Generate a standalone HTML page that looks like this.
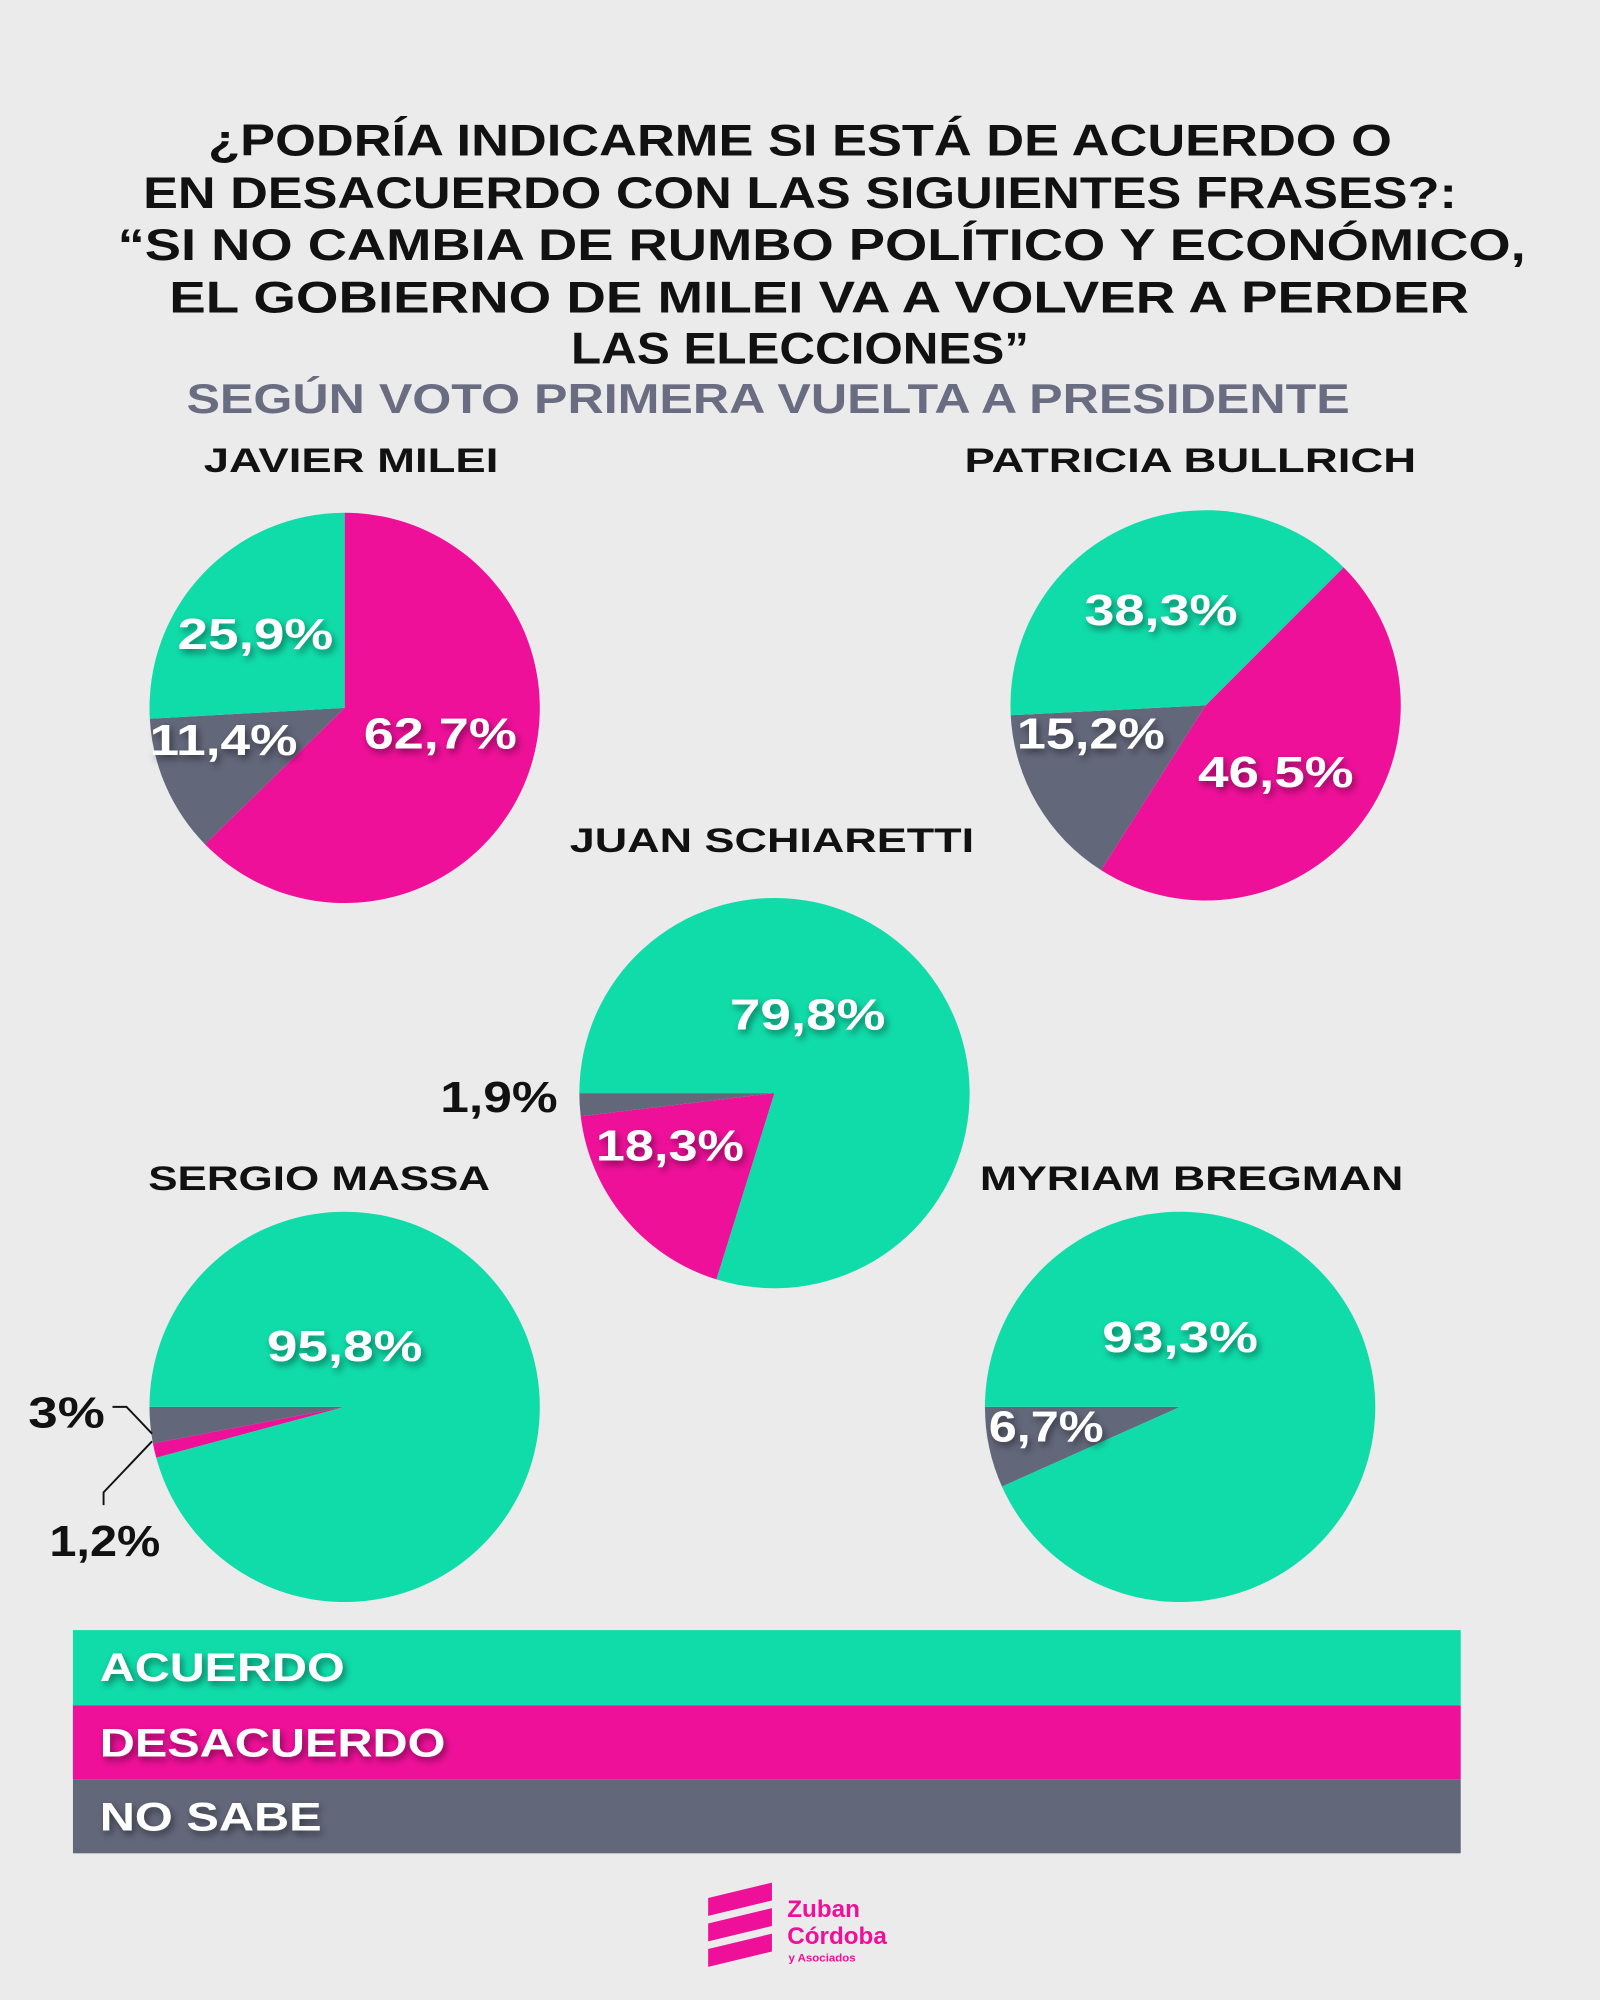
<!DOCTYPE html>
<html><head><meta charset="utf-8"><style>
html,body{margin:0;padding:0;background:#ececec;}
svg{display:block}
text{font-family:"Liberation Sans","DejaVu Sans",sans-serif;font-weight:bold;}
</style></head><body>
<svg id="s" width="1600" height="2000" viewBox="0 0 1254 1568" xmlns="http://www.w3.org/2000/svg">
<defs>
<filter id="sh" x="-20%" y="-40%" width="140%" height="180%"><feDropShadow dx="2" dy="3" stdDeviation="3" flood-color="#000" flood-opacity="0.45"/></filter>
</defs>
<rect width="1254" height="1568" fill="#ebebeb"/>
<g id="pies"></g>
<g text-anchor="middle" fill="#111" font-size="35" lengthAdjust="spacingAndGlyphs">
<text x="627" y="122" textLength="928" lengthAdjust="spacingAndGlyphs">¿PODRÍA INDICARME SI ESTÁ DE ACUERDO O</text>
<text x="627" y="163" textLength="1030" lengthAdjust="spacingAndGlyphs">EN DESACUERDO CON LAS SIGUIENTES FRASES?:</text>
<text x="644" y="204" textLength="1104" lengthAdjust="spacingAndGlyphs">“SI NO CAMBIA DE RUMBO POLÍTICO Y ECONÓMICO,</text>
<text x="642" y="245" textLength="1019" lengthAdjust="spacingAndGlyphs">EL GOBIERNO DE MILEI VA A VOLVER A PERDER</text>
<text x="627" y="285" textLength="359" lengthAdjust="spacingAndGlyphs">LAS ELECCIONES”</text>
</g>
<text x="602" y="324" text-anchor="middle" fill="#6a6d82" font-size="33" textLength="912" lengthAdjust="spacingAndGlyphs">SEGÚN VOTO PRIMERA VUELTA A PRESIDENTE</text>
<g fill="#111" font-size="27" text-anchor="middle">
<text x="275" y="370" textLength="231" lengthAdjust="spacingAndGlyphs">JAVIER MILEI</text>
<text x="933" y="370" textLength="354" lengthAdjust="spacingAndGlyphs">PATRICIA BULLRICH</text>
<text x="605" y="668" textLength="317" lengthAdjust="spacingAndGlyphs">JUAN SCHIARETTI</text>
<text x="250" y="933" textLength="268" lengthAdjust="spacingAndGlyphs">SERGIO MASSA</text>
<text x="934" y="933" textLength="332" lengthAdjust="spacingAndGlyphs">MYRIAM BREGMAN</text>
</g>
<g fill="#fff" font-size="34" text-anchor="middle" filter="url(#sh)">
<text x="200" y="509" textLength="122" lengthAdjust="spacingAndGlyphs">25,9%</text>
<text x="175" y="592" textLength="116" lengthAdjust="spacingAndGlyphs">11,4%</text>
<text x="345" y="587" textLength="120" lengthAdjust="spacingAndGlyphs">62,7%</text>
<text x="910" y="490" textLength="120" lengthAdjust="spacingAndGlyphs">38,3%</text>
<text x="855" y="587" textLength="116" lengthAdjust="spacingAndGlyphs">15,2%</text>
<text x="1000" y="617" textLength="122" lengthAdjust="spacingAndGlyphs">46,5%</text>
<text x="633" y="807" textLength="122" lengthAdjust="spacingAndGlyphs">79,8%</text>
<text x="525" y="910" textLength="116" lengthAdjust="spacingAndGlyphs">18,3%</text>
<text x="270" y="1067" textLength="122" lengthAdjust="spacingAndGlyphs">95,8%</text>
<text x="925" y="1060" textLength="122" lengthAdjust="spacingAndGlyphs">93,3%</text>
<text x="820" y="1130" textLength="90" lengthAdjust="spacingAndGlyphs">6,7%</text>
</g>
<g fill="#111" font-size="34" text-anchor="middle">
<text x="391" y="872" textLength="92" lengthAdjust="spacingAndGlyphs">1,9%</text>
<text x="52" y="1119" textLength="60" lengthAdjust="spacingAndGlyphs">3%</text>
<text x="82" y="1220" textLength="87" lengthAdjust="spacingAndGlyphs">1,2%</text>
</g>
<polyline points="88,1103 99,1103 119,1124" fill="none" stroke="#111" stroke-width="1.5"/>
<polyline points="119,1130 81,1170 81,1180" fill="none" stroke="#111" stroke-width="1.5"/>
<rect x="57" y="1278" width="1088" height="59" fill="#10dcaa"/>
<rect x="57" y="1337" width="1088" height="58" fill="#ef1099"/>
<rect x="57" y="1395" width="1088" height="58" fill="#63677a"/>
<g fill="#fff" font-size="31" filter="url(#sh)">
<text x="78" y="1318" textLength="192" lengthAdjust="spacingAndGlyphs">ACUERDO</text>
<text x="78" y="1377" textLength="271" lengthAdjust="spacingAndGlyphs">DESACUERDO</text>
<text x="78" y="1435" textLength="174" lengthAdjust="spacingAndGlyphs">NO SABE</text>
</g>
<g fill="#ef1099">
<polygon points="555,1488 605,1476 605,1490 555,1502"/>
<polygon points="555,1508 605,1496 605,1510 555,1522"/>
<polygon points="555,1528 605,1516 605,1530 555,1542"/>
</g>
<g fill="#ef1099" font-size="19">
<text x="617" y="1503">Zuban</text>
<text x="617" y="1524">Córdoba</text>
<text x="618" y="1538" font-size="9" font-weight="normal">y Asociados</text>
</g>
</svg>
<script>
var G="#10dcaa",P="#ef1099",N="#63677a";
function pt(cx,cy,r,a){a=a*Math.PI/180;return [cx+r*Math.sin(a),cy-r*Math.cos(a)];}
function sl(cx,cy,r,a0,a1,c){var p0=pt(cx,cy,r,a0),p1=pt(cx,cy,r,a1);var l=(a1-a0)>180?1:0;
return '<path d="M'+cx+','+cy+' L'+p0[0]+','+p0[1]+' A'+r+','+r+' 0 '+l+' 1 '+p1[0]+','+p1[1]+' Z" fill="'+c+'"/>';}
var h='';
var pies=[
[270,555,[[0,225.7,P],[225.7,266.8,N],[266.8,360,G]]],
[945,553,[[45,212.4,P],[212.4,267.1,N],[267.1,405,G]]],
[607,857,[[197.3,263.2,P],[263.2,270,N],[270,557.3,G]]],
[270,1103,[[254.9,259.2,P],[259.2,270,N],[270,614.9,G]]],
[925,1103,[[245.9,270,N],[270,605.9,G]]]];
pies.forEach(function(p){p[2].forEach(function(s){h+=sl(p[0],p[1],153,s[0],s[1],s[2]);});});
document.getElementById('pies').innerHTML=h;
</script>
</body></html>
